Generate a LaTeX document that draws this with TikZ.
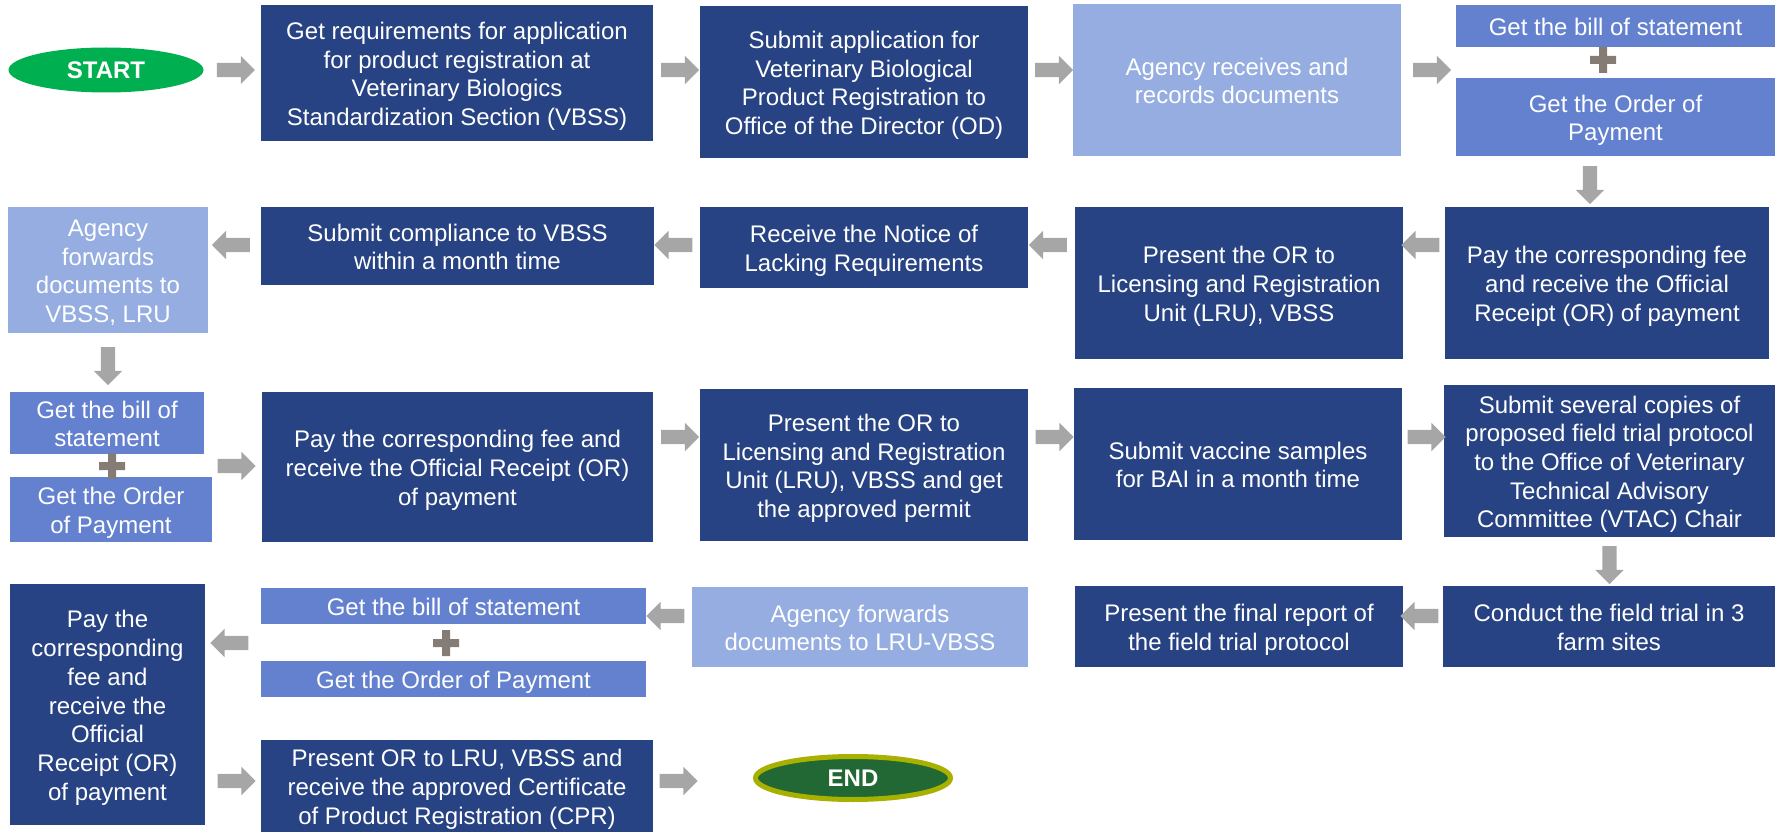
\documentclass[tikz,border=0pt]{standalone}
\usepackage{fontspec}
\setmainfont{Liberation Sans}
\usetikzlibrary{shapes.geometric,shapes.arrows}

\definecolor{stepdark}{RGB}{39,67,131}
\definecolor{stepmid}{RGB}{99,129,207}
\definecolor{steplight}{RGB}{149,173,224}
\definecolor{arrowgray}{RGB}{166,166,166}
\definecolor{plusgray}{RGB}{134,124,118}
\definecolor{startgreen}{RGB}{0,176,80}
\definecolor{endgreen}{RGB}{33,104,52}
\definecolor{endolive}{RGB}{168,176,0}

% struts for the first and last line of a box
\newcommand{\firststrut}{\rule{0pt}{24.5pt}}

\tikzset{
  box/.style={anchor=north west, inner sep=0pt, outer sep=0pt, text=white, align=center,
    font=\fontsize{24}{28.7}\selectfont,
    execute at end node={\rule[-5.5pt]{0pt}{5.5pt}}},
  darkbox/.style={box, fill=stepdark},
  midbox/.style={box, fill=stepmid},
  lightbox/.style={box, fill=steplight},
  oval/.style={ellipse, inner sep=0pt, text=white, font=\fontsize{24}{28.7}\selectfont\bfseries},
  flowarrow/.style={single arrow, fill=arrowgray, draw=none, inner sep=7pt, outer sep=0pt,
    single arrow head extend=7pt, minimum height=38pt},
  plusmark/.pic={\fill[plusgray] (-13,-4) rectangle (13,4) (-4,-13) rectangle (4,13);}
}

\begin{document}
\begin{tikzpicture}[x=1pt,y=1pt,yscale=-1]
\useasboundingbox (0,0) rectangle (1781,832);

% rows of arrows
\coordinate (r1) at (0,70);
\coordinate (r2) at (0,245);
\coordinate (r3) at (0,437);
\coordinate (r4) at (0,616);
\coordinate (r5) at (0,781);
\coordinate (d1) at (1590,0);

%Row 1
\node[oval, fill=startgreen, minimum width=195pt, minimum height=45pt] (start) at (106,70) {START};
\node[darkbox, minimum width=392pt, minimum height=136pt] (getreq) at (261,5)
  {\firststrut Get requirements for application\\for product registration at\\Veterinary Biologics\\Standardization Section (VBSS)};
\node[darkbox, minimum width=328pt, minimum height=152pt] (submitapp) at (700,6)
  {\firststrut Submit application for\\Veterinary Biological\\Product Registration to\\Office of the Director (OD)};
\node[lightbox, minimum width=328pt, minimum height=152pt] (receives) at (1073,4)
  {\firststrut Agency receives and\\records documents};
\node[midbox, minimum width=319pt, minimum height=42pt] (bill1) at (1456,5) {\firststrut Get the bill of statement};
\node[midbox, minimum width=319pt, minimum height=78pt] (order1) at (1456,78) {\firststrut Get the Order of\\Payment};

%Row 2
\node[darkbox, minimum width=324pt, minimum height=152pt] (pay1) at (1445,207)
  {\firststrut Pay the corresponding fee\\and receive the Official\\Receipt (OR) of payment};
\node[darkbox, minimum width=328pt, minimum height=152pt] (present1) at (1075,207)
  {\firststrut Present the OR to\\Licensing and Registration\\Unit (LRU), VBSS};
\node[darkbox, minimum width=328pt, minimum height=81pt] (notice) at (700,207)
  {\firststrut Receive the Notice of\\Lacking Requirements};
\node[darkbox, minimum width=393pt, minimum height=78pt] (compliance) at (261,207)
  {\firststrut Submit compliance to VBSS\\within a month time};
\node[lightbox, minimum width=200pt, minimum height=126pt] (forwards1) at (8,207)
  {\firststrut Agency\\forwards\\documents to\\VBSS, LRU};

%Row 3
\node[midbox, minimum width=194pt, minimum height=62pt] (bill2) at (10,392) {\firststrut Get the bill of\\statement};
\node[midbox, minimum width=202pt, minimum height=65pt] (order2) at (10,477) {\firststrut Get the Order\\of Payment};
\node[darkbox, minimum width=391pt, minimum height=150pt] (pay2) at (262,392)
  {\firststrut Pay the corresponding fee and\\receive the Official Receipt (OR)\\of payment};
\node[darkbox, minimum width=328pt, minimum height=152pt] (present2) at (700,389)
  {\firststrut Present the OR to\\Licensing and Registration\\Unit (LRU), VBSS and get\\the approved permit};
\node[darkbox, minimum width=328pt, minimum height=152pt] (vaccine) at (1074,388)
  {\firststrut Submit vaccine samples\\for BAI in a month time};
\node[darkbox, minimum width=331pt, minimum height=152pt] (copies) at (1444,385)
  {\firststrut Submit several copies of\\proposed field trial protocol\\to the Office of Veterinary\\Technical Advisory\\Committee (VTAC) Chair};

%Row 4
\node[darkbox, minimum width=332pt, minimum height=81pt] (conduct) at (1443,586)
  {\firststrut Conduct the field trial in 3\\farm sites};
\node[darkbox, minimum width=328pt, minimum height=81pt] (report) at (1075,586)
  {\firststrut Present the final report of\\the field trial protocol};
\node[lightbox, minimum width=336pt, minimum height=80pt] (forwards2) at (692,587)
  {\firststrut Agency forwards\\documents to LRU-VBSS};
\node[midbox, minimum width=385pt, minimum height=36pt] (bill3) at (261,588) {\firststrut Get the bill of statement};
\node[midbox, minimum width=385pt, minimum height=36pt] (order3) at (261,661) {\firststrut Get the Order of Payment};
\node[darkbox, minimum width=195pt, minimum height=241pt] (pay3) at (10,584)
  {\firststrut Pay the\\corresponding\\fee and\\receive the\\Official\\Receipt (OR)\\of payment};
\node[darkbox, minimum width=392pt, minimum height=92pt] (present3) at (261,740)
  {\firststrut Present OR to LRU, VBSS and\\receive the approved Certificate\\of Product Registration (CPR)};
\node[oval, fill=endgreen, draw=endolive, line width=5pt, minimum width=195pt, minimum height=43pt] (end) at (853,778) {END};

% plus signs between bill and order
\coordinate (plus1) at (1603,60);
\coordinate (plus2) at (112,466);
\coordinate (plus3) at (446,643);
\pic at (plus1) {plusmark};
\pic at (plus2) {plusmark};
\pic at (plus3) {plusmark};

%Arrows
\path (start.east |- r1) -- node[flowarrow]{} (getreq.west |- r1);
\path (getreq.east |- r1) -- node[flowarrow]{} (submitapp.west |- r1);
\path (submitapp.east |- r1) -- node[flowarrow]{} (receives.west |- r1);
\path (receives.east |- r1) -- node[flowarrow]{} (order1.west |- r1);
\path (order1.south -| d1) -- node[flowarrow, rotate=-90]{} (pay1.north -| d1);

\path (pay1.west |- r2) -- node[flowarrow, rotate=180]{} (present1.east |- r2);
\path (present1.west |- r2) -- node[flowarrow, rotate=180]{} (notice.east |- r2);
\path (notice.west |- r2) -- node[flowarrow, rotate=180]{} (compliance.east |- r2);
\path (compliance.west |- r2) -- node[flowarrow, rotate=180]{} (forwards1.east |- r2);
\path (forwards1.south) -- node[flowarrow, rotate=-90]{} (forwards1.south |- bill2.north);

\path (bill2.east |- plus2) -- node[flowarrow]{} (pay2.west |- plus2);
\path (pay2.east |- r3) -- node[flowarrow]{} (present2.west |- r3);
\path (present2.east |- r3) -- node[flowarrow]{} (vaccine.west |- r3);
\path (vaccine.east |- r3) -- node[flowarrow]{} (copies.west |- r3);
\path (copies.south) -- node[flowarrow, rotate=-90]{} (copies.south |- conduct.north);

\path (conduct.west |- r4) -- node[flowarrow, rotate=180]{} (report.east |- r4);
\path (forwards2.west |- r4) -- node[flowarrow, rotate=180]{} (bill3.east |- r4);
\path (bill3.west |- plus3) -- node[flowarrow, rotate=180]{} (pay3.east |- plus3);
\path (pay3.east |- r5) -- node[flowarrow]{} (present3.west |- r5);
\path (present3.east |- r5) -- node[flowarrow, pos=0.22]{} (end.west |- r5);

\end{tikzpicture}
\end{document}
